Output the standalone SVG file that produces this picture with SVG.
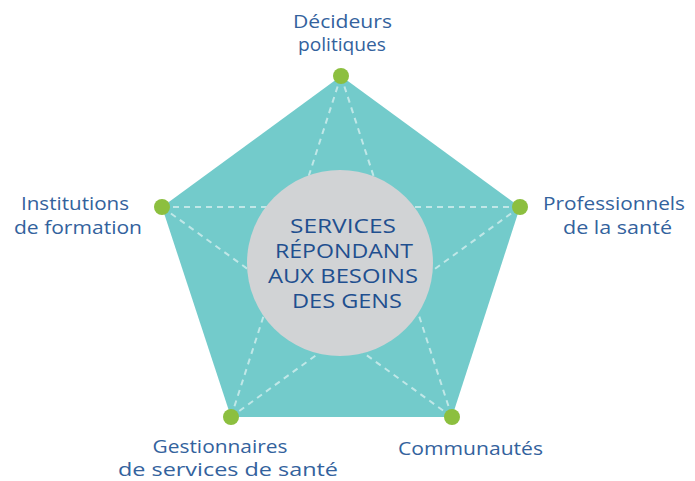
<svg xmlns="http://www.w3.org/2000/svg" width="695" height="481" viewBox="0 0 695 481">
<style>
.lbl{font-family:"Open Sans","Liberation Sans",sans-serif;font-size:18.5px;fill:#33629d;text-anchor:middle}
.ctr{font-family:"Open Sans","Liberation Sans",sans-serif;font-size:20px;fill:#1f4f8f;text-anchor:middle}
.dash{stroke:#ffffff;stroke-opacity:0.55;stroke-width:2;stroke-dasharray:6 5;fill:none}
.dot{fill:#8cbf3f}
</style>
<rect width="695" height="481" fill="#ffffff"/>
<polygon id="pentagon" points="341,76 520,207 452,417 231,417 162,207" fill="#73cbcb"/>
<g id="connectors">
<line class="dash" x1="341" y1="76" x2="231" y2="417"/>
<line class="dash" x1="341" y1="76" x2="452" y2="417"/>
<line class="dash" x1="162" y1="207" x2="520" y2="207"/>
<line class="dash" x1="162" y1="207" x2="452" y2="417"/>
<line class="dash" x1="520" y1="207" x2="231" y2="417"/>
</g>
<g id="center">
<circle cx="340" cy="263" r="93" fill="#d1d3d5"/>
<text class="ctr" x="343" y="233" textLength="106" lengthAdjust="spacingAndGlyphs">SERVICES</text>
<text class="ctr" x="344" y="258" textLength="138" lengthAdjust="spacingAndGlyphs">RÉPONDANT</text>
<text class="ctr" x="343" y="283" textLength="150" lengthAdjust="spacingAndGlyphs">AUX BESOINS</text>
<text class="ctr" x="347" y="308" textLength="110" lengthAdjust="spacingAndGlyphs">DES GENS</text>
</g>
<g id="node-decideurs">
<circle class="dot" cx="341" cy="76" r="8"/>
<text class="lbl" x="342.5" y="28" textLength="99" lengthAdjust="spacingAndGlyphs">Décideurs</text>
<text class="lbl" x="342" y="51" textLength="88" lengthAdjust="spacingAndGlyphs">politiques</text>
</g>
<g id="node-professionnels">
<circle class="dot" cx="520" cy="207" r="8"/>
<text class="lbl" x="614" y="210" textLength="142" lengthAdjust="spacingAndGlyphs">Professionnels</text>
<text class="lbl" x="617.5" y="234" textLength="109" lengthAdjust="spacingAndGlyphs">de la santé</text>
</g>
<g id="node-communautes">
<circle class="dot" cx="452" cy="417" r="8"/>
<text class="lbl" x="470.5" y="455" textLength="145" lengthAdjust="spacingAndGlyphs">Communautés</text>
</g>
<g id="node-gestionnaires">
<circle class="dot" cx="231" cy="417" r="8"/>
<text class="lbl" x="220" y="452.5" textLength="135" lengthAdjust="spacingAndGlyphs">Gestionnaires</text>
<text class="lbl" x="228" y="476" textLength="220" lengthAdjust="spacingAndGlyphs">de services de santé</text>
</g>
<g id="node-institutions">
<circle class="dot" cx="162" cy="207" r="8"/>
<text class="lbl" x="75" y="210" textLength="108" lengthAdjust="spacingAndGlyphs">Institutions</text>
<text class="lbl" x="78" y="234" textLength="128" lengthAdjust="spacingAndGlyphs">de formation</text>
</g>
</svg>
